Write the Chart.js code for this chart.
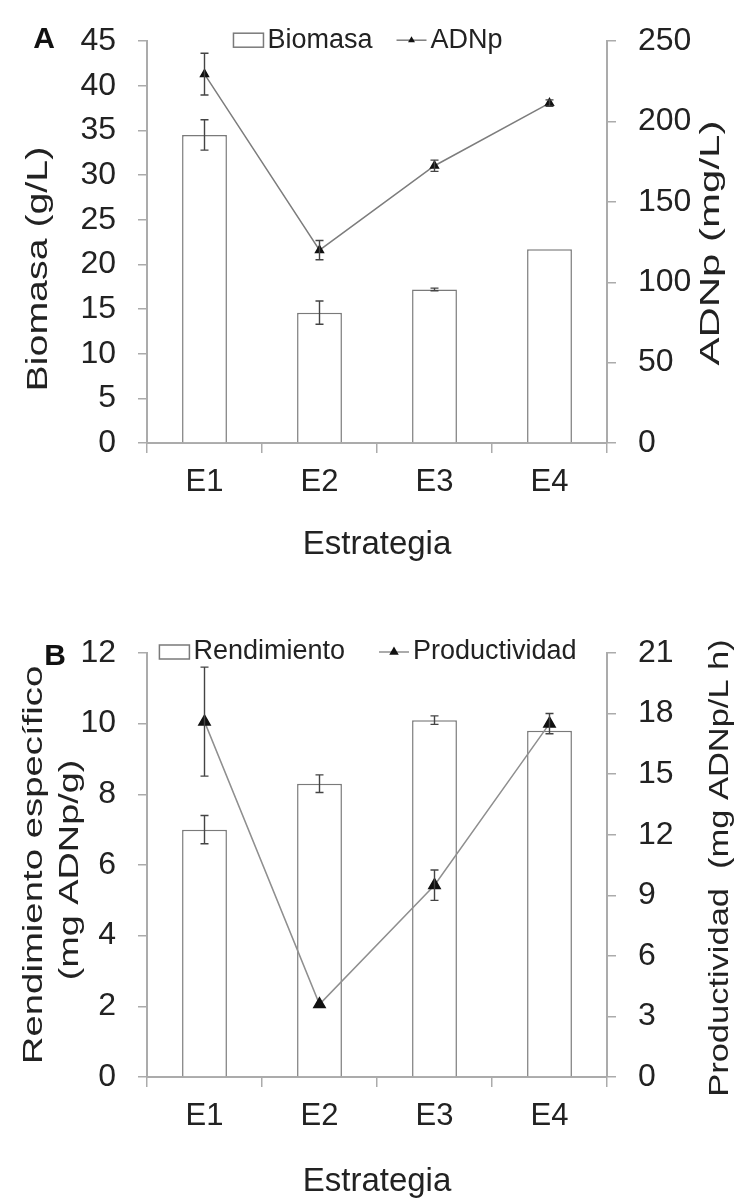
<!DOCTYPE html>
<html><head><meta charset="utf-8">
<script src="https://cdn.jsdelivr.net/npm/chart.js@4.4.1/dist/chart.umd.min.js"></script>
<style>
html,body{margin:0;padding:0;background:#fff;overflow:hidden;width:740px;height:1199px;}
canvas{position:absolute;left:0;}
#cA{top:0}
#cB{top:590px}
</style></head><body>
<canvas id="cA" width="740" height="590"></canvas>
<canvas id="cB" width="740" height="630"></canvas>
<script>
// ---- data ----
const categories = ['E1', 'E2', 'E3', 'E4'];
const biomasa = [34.5, 14.6, 17.2, 21.7];
const biomasaErr = [1.7, 1.3, 0.15, 0];
const adnp = [229.5, 120, 172.5, 211.5];
const adnpErr = [13, 6, 3.5, 2];
const rendimiento = [7.0, 8.3, 10.1, 9.8];
const rendimientoErr = [0.4, 0.25, 0.12, 0];
const productividad = [17.6, 3.6, 9.5, 17.5];
const productividadErr = [2.7, 0, 0.75, 0.5];
const biomasaAxis = { min: 0, max: 45, step: 5 };
const adnpAxis = { min: 0, max: 250, step: 50 };
const rendAxis = { min: 0, max: 12, step: 2 };
const prodAxis = { min: 0, max: 21, step: 3 };

const FONT = '"Liberation Sans", Arial, Helvetica, sans-serif';
const TXT = '#222';
const AXIS = '#ababab';

// ---- plugins ----
const errorBarPlugin = {
  id: 'errorBars',
  afterDatasetsDraw(chart) {
    const ctx = chart.ctx;
    chart.data.datasets.forEach((ds, di) => {
      if (!ds.errors) return;
      const meta = chart.getDatasetMeta(di);
      const scale = chart.scales[ds.yAxisID];
      ctx.save();
      ctx.strokeStyle = '#444';
      ctx.lineWidth = 1.4;
      meta.data.forEach((el, i) => {
        const e = ds.errors[i];
        if (!e) return;
        const x = el.x;
        const yT = scale.getPixelForValue(ds.data[i] + e);
        const yB = scale.getPixelForValue(ds.data[i] - e);
        ctx.beginPath();
        ctx.moveTo(x, yT); ctx.lineTo(x, yB);
        ctx.moveTo(x - 4, yT); ctx.lineTo(x + 4, yT);
        ctx.moveTo(x - 4, yB); ctx.lineTo(x + 4, yB);
        ctx.stroke();
      });
      ctx.restore();
    });
  }
};

function triangle(ctx, x, y, r) {
  const w = r * 1.732;
  ctx.beginPath();
  ctx.moveTo(x, y - r);
  ctx.lineTo(x + w / 2, y + r / 2);
  ctx.lineTo(x - w / 2, y + r / 2);
  ctx.closePath();
  ctx.fill();
}

function legendPlugin(o) {
  return {
    id: 'customLegend',
    afterDraw(chart) {
      const ctx = chart.ctx;
      ctx.save();
      ctx.font = o.size + 'px ' + FONT;
      ctx.textBaseline = 'middle';
      const y = chart.chartArea.top + o.dy;
      const sym = 30, gap = 4;
      const items = chart.data.datasets.map(ds => ({ ds, w: ctx.measureText(ds.label).width }));
      const total = items.reduce((s, it) => s + sym + gap + it.w, 0) + o.itemGap * (items.length - 1);
      let x = o.center - total / 2;
      items.forEach(it => {
        const ds = it.ds;
        if (ds.type === 'line') {
          ctx.strokeStyle = ds.borderColor; ctx.lineWidth = 1.5;
          ctx.beginPath(); ctx.moveTo(x, y); ctx.lineTo(x + sym, y); ctx.stroke();
          ctx.fillStyle = ds.pointBackgroundColor;
          triangle(ctx, x + sym / 2, y, o.markR);
        } else {
          ctx.fillStyle = '#fff'; ctx.strokeStyle = ds.borderColor; ctx.lineWidth = 1.5;
          ctx.fillRect(x, y - 7, sym, 14); ctx.strokeRect(x, y - 7, sym, 14);
        }
        x += sym + gap;
        ctx.fillStyle = TXT;
        ctx.fillText(ds.label, x, y);
        x += it.w + o.itemGap;
      });
      ctx.restore();
    }
  };
}

function titlesPlugin(items, panel) {
  return {
    id: 'vTitles',
    afterDraw(chart) {
      const ctx = chart.ctx, ca = chart.chartArea;
      const midY = (ca.top + ca.bottom) / 2;
      items.forEach(t => {
        ctx.save();
        ctx.font = t.size + 'px ' + FONT;
        ctx.fillStyle = TXT;
        ctx.textAlign = 'center'; ctx.textBaseline = 'middle';
        ctx.translate(t.x, midY + t.dy);
        ctx.rotate(-Math.PI / 2);
        ctx.scale(t.stretch, 1);
        ctx.fillText(t.text, 0, 0);
        ctx.restore();
      });
      ctx.save();
      ctx.font = 'bold ' + panel.size + 'px ' + FONT;
      ctx.fillStyle = '#111';
      ctx.textAlign = 'center'; ctx.textBaseline = 'middle';
      ctx.fillText(panel.text, panel.x, ca.top + panel.dy);
      ctx.restore();
    }
  };
}

function yScale(pos, ax, width) {
  return {
    position: pos, min: ax.min, max: ax.max,
    ticks: { stepSize: ax.step, font: { size: 32, family: FONT }, color: TXT, padding: 22 },
    grid: { drawOnChartArea: false, tickLength: 9, color: AXIS, lineWidth: 1.5 },
    border: { color: AXIS, width: 2 },
    afterFit(s) { s.width = width; }
  };
}

function xScale(height, titlePad) {
  return {
    offset: true,
    grid: { drawOnChartArea: false, offset: true, tickLength: 10, color: AXIS, lineWidth: 1.5 },
    border: { color: AXIS, width: 2 },
    ticks: { font: { size: 31, family: FONT }, color: TXT, padding: 11 },
    title: { display: true, text: 'Estrategia', font: { size: 33, family: FONT }, color: TXT, padding: { top: 0, bottom: titlePad } },
    afterFit(s) { s.height = height; }
  };
}

const common = {
  responsive: false, animation: false, devicePixelRatio: 1,
  plugins: { legend: { display: false }, tooltip: { enabled: false } }
};

// ---- Chart A ----
new Chart(document.getElementById('cA'), {
  type: 'bar',
  data: {
    labels: categories,
    datasets: [
      { label: 'Biomasa', data: biomasa, errors: biomasaErr, yAxisID: 'y',
        backgroundColor: '#fff', borderColor: '#7a7a7a', borderWidth: 1.5,
        categoryPercentage: 1, barPercentage: 0.39, order: 2 },
      { type: 'line', label: 'ADNp', data: adnp, errors: adnpErr, yAxisID: 'y1',
        borderColor: '#7d7d7d', borderWidth: 1.5, tension: 0,
        pointStyle: 'triangle', pointRadius: 4.5, pointBackgroundColor: '#111', pointBorderColor: '#111', order: 1 }
    ]
  },
  options: Object.assign({}, common, {
    layout: { padding: { top: 25, left: 0, right: 0, bottom: 0 } },
    scales: {
      x: xScale(147, 25),
      y: yScale('left', biomasaAxis, 147),
      y1: yScale('right', adnpAxis, 133)
    }
  }),
  plugins: [errorBarPlugin,
    legendPlugin({ size: 27, dy: -1, center: 368, itemGap: 24, markR: 4 }),
    titlesPlugin([
      { text: 'Biomasa (g/L)', x: 39, dy: 27, size: 30, stretch: 1.31 },
      { text: 'ADNp (mg/L)', x: 711, dy: 1, size: 28, stretch: 1.5 }
    ], { text: 'A', size: 30, x: 44, dy: -1 })
  ]
});

// ---- Chart B ----
new Chart(document.getElementById('cB'), {
  type: 'bar',
  data: {
    labels: categories,
    datasets: [
      { label: 'Rendimiento', data: rendimiento, errors: rendimientoErr, yAxisID: 'y',
        backgroundColor: '#fff', borderColor: '#7a7a7a', borderWidth: 1.5,
        categoryPercentage: 1, barPercentage: 0.39, order: 2 },
      { type: 'line', label: 'Productividad', data: productividad, errors: productividadErr, yAxisID: 'y1',
        borderColor: '#8f8f8f', borderWidth: 1.5, tension: 0,
        pointStyle: 'triangle', pointRadius: 6.5, pointBackgroundColor: '#111', pointBorderColor: '#111', order: 1 }
    ]
  },
  options: Object.assign({}, common, {
    layout: { padding: { top: 63, left: 0, right: 0, bottom: 0 } },
    scales: {
      x: xScale(143, 18),
      y: yScale('left', rendAxis, 147),
      y1: yScale('right', prodAxis, 133)
    }
  }),
  plugins: [errorBarPlugin,
    legendPlugin({ size: 27, dy: -1, center: 368, itemGap: 34, markR: 5.5 }),
    titlesPlugin([
      { text: 'Rendimiento específico', x: 35, dy: 0, size: 27, stretch: 1.42 },
      { text: '(mg ADNp/g)', x: 71, dy: 5, size: 27, stretch: 1.4 },
      { text: 'Productividad  (mg ADNp/L h)', x: 720, dy: 3, size: 28, stretch: 1.23 }
    ], { text: 'B', size: 30, x: 55, dy: 4 })
  ]
});
</script>
</body></html>
